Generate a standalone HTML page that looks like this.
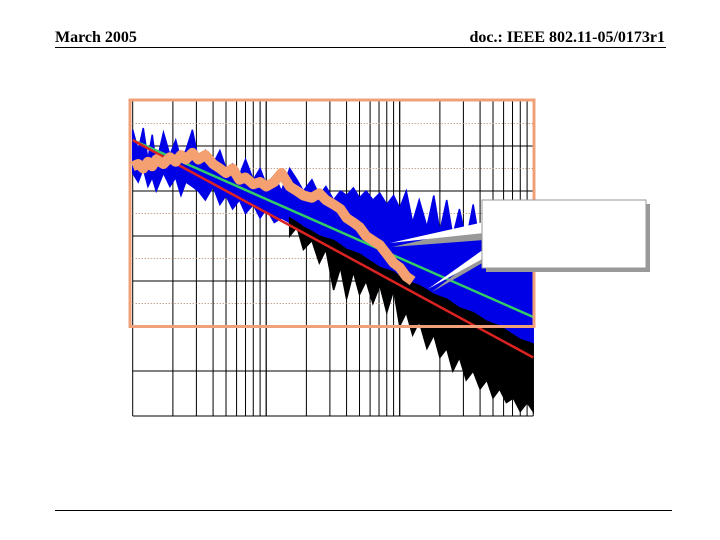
<!DOCTYPE html>
<html><head><meta charset="utf-8"><style>
html,body{margin:0;padding:0;background:#fff;width:720px;height:540px;overflow:hidden}
.t{position:absolute;font-family:"Liberation Serif",serif;font-weight:bold;font-size:16px;color:#000}
</style></head><body>
<div class="t" style="left:55px;top:29px">March 2005</div>
<div class="t" style="right:55px;top:29px">doc.: IEEE 802.11-05/0173r1</div>
<div style="position:absolute;left:55px;top:47px;width:611px;height:1px;background:#000"></div>
<div style="position:absolute;left:55px;top:510px;width:617px;height:1px;background:#000"></div>
<svg id="chart" width="720" height="540" style="position:absolute;left:0;top:0"></svg>
<script>
const freqs=[1,1.1,1.2,1.3,1.4,1.5,1.7,1.9,2.1,2.3,2.5,2.8,3.1,3.5,4,4.5,5,5.6,6.3,7,8,9,10,11.5,13,15,17,19,22,25,28,32,36,40,45,50,56,63,71,80,90,100,112,125,140,160,180,200,225,250,280,315,355,400,450,500,560,630,710,800,900,1000];
const blueHigh=[-6.4,-11,-6,-13,-7.5,-14,-7,-12,-8.7,-13,-11,-6.4,-13,-11,-14,-11,-15,-14,-16.5,-13,-17.5,-15,-18.6,-16.5,-20,-15,-17.5,-20,-17.5,-21,-19,-22,-20,-21,-19.3,-21.5,-20,-22,-20.5,-23,-21,-23.8,-20,-27,-22,-28,-21,-29,-22,-30,-24,-31,-23,-32,-25,-30,-26,-33,-27,-32,-29,-34];
const blueLow=[-16,-18,-15,-19,-17,-20,-16,-19,-17,-21,-18,-19,-20,-22,-19,-23,-21,-24,-22,-25,-23,-26,-24,-27,-26,-27,-28,-29,-30,-31,-31.5,-32,-33,-34,-34.5,-35,-36,-37,-38,-38.5,-39,-40,-41,-41.5,-42,-43,-44,-44.5,-45,-46,-47,-47.5,-48,-49,-50,-50.5,-51,-52,-53,-54,-54.5,-55];
const blackHigh=[null,null,null,null,null,null,null,null,null,null,null,null,null,null,null,null,null,null,null,null,null,null,null,null,null,-26,-27,-28,-29,-30,-30.5,-31,-32,-33,-33.5,-34,-35,-36,-37,-37.5,-38,-39,-40,-40.5,-41,-42,-43,-43.5,-44,-45,-46,-46.5,-47,-48,-49,-49.5,-50,-51,-52,-53,-53.5,-54];
const blackLow=[null,null,null,null,null,null,null,null,null,null,null,null,null,null,null,null,null,null,null,null,null,null,null,null,null,-30,-28,-33,-31,-36,-33,-42,-37,-44,-38,-43,-40,-45,-41,-47,-42,-50,-47,-52,-49,-55,-52,-57,-55,-60,-57,-62,-60,-64,-62,-66,-64,-67,-66,-69,-67,-69];
const orange=[-14.5,-14,-15,-13.5,-14.5,-13,-14,-12.5,-13.5,-12,-13,-11.5,-13,-12,-14,-15,-16,-15,-17.5,-17,-18.5,-18,-19,-18,-16,-19,-20,-21,-21.5,-20.5,-22,-23,-24,-26,-27,-28,-30,-31,-32,-34,-36,-37,-39,-40];
const greenFreq=[1,1000];const greenVal=[-8.7,-48];
const redFreq=[1,1000];const redVal=[-8.7,-57];
const xTicks=[1,10,100,1000];const yTicks=[0,-10,-20,-30,-40,-50,-60,-70];

const X0=132.7,PXD=133.5,Y0=101,PDB=4.5;
const sx=f=>X0+Math.log10(f)*PXD;
const sy=v=>Y0-v*PDB;
const svg=document.getElementById('chart');
const NS='http://www.w3.org/2000/svg';
function mk(tag,attrs){const e=document.createElementNS(NS,tag);for(const k in attrs)e.setAttribute(k,attrs[k]);svg.appendChild(e);return e;}
for(let d=0;d<3;d++){for(let m=1;m<=10;m++){const f=xTicks[d]*m;const x=sx(f);
 const l=mk('line',{x1:x,x2:x,y1:sy(0),y2:sy(-70),stroke:'#000','stroke-width':1});
 
 }}
yTicks.forEach(v=>{const l=mk('line',{x1:sx(1),x2:sx(1000),y1:sy(v),y2:sy(v),stroke:'#000','stroke-width':1});
 
 });
for(let v=-5;v>-50;v-=10){const l=mk('line',{x1:sx(1),x2:sx(1000),y1:sy(v),y2:sy(v),stroke:'#b08060','stroke-width':1,'stroke-dasharray':'1,2'});
 
 }
function band(hi,lo,color,name){const up=[],dn=[];freqs.forEach((f,i)=>{if(hi[i]==null)return;up.push(sx(f)+','+sy(hi[i]));dn.unshift(sx(f)+','+sy(lo[i]));});
 const p=mk('polygon',{points:up.concat(dn).join(' '),fill:color,stroke:color,'stroke-width':1.5,'stroke-linejoin':'miter'});
 
 }
band(blueHigh,blueLow,'#0000e6','blue-series');
band(blackHigh,blackLow,'#000','black-series');
function line(fs,vs,color,w,name){const pts=fs.map((f,i)=>sx(f)+','+sy(vs[i])).join(' ');
 const p=mk('polyline',{points:pts,fill:'none',stroke:color,'stroke-width':w,'stroke-linejoin':'round'});
 
 }
line(greenFreq,greenVal,'#33cc66',2.5,'green-fit-line');
line(redFreq,redVal,'#dd2222',2.5,'red-fit-line');
line(freqs.slice(0,orange.length),orange,'#f4a070',10,'orange-series');
const b=mk('rect',{x:130,y:100,width:404,height:226.5,fill:'none',stroke:'#f0a078','stroke-width':3});


const s1=mk('polygon',{points:'484,226 392,247 484,240',fill:'#999'});


const p1=mk('polygon',{points:'484,222 390,243 484,233',fill:'#fff'});


const s2=mk('polygon',{points:'484,252 432,292 484,262',fill:'#999'});


const p2=mk('polygon',{points:'484,249 428,289 484,258',fill:'#fff'});


const cs=mk('rect',{x:486,y:204,width:164,height:68,fill:'#999'});


const cb=mk('rect',{x:482,y:200,width:164,height:68,fill:'#fff',stroke:'#999','stroke-width':1});


</script>
</body></html>
